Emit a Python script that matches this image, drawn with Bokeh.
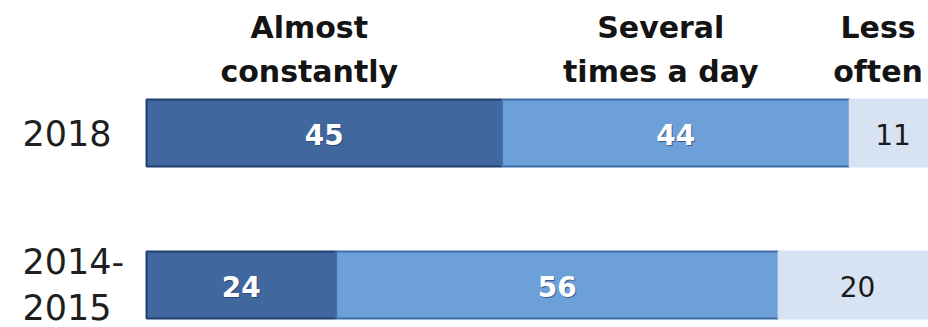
from bokeh.plotting import figure
from bokeh.models import ColumnDataSource, Range1d
from bokeh.core.properties import value
from bokeh.embed import file_html
from bokeh.resources import INLINE

# ---- data ----
years = ["2018", "2014-\n2015"]
year_pos = [1, 0]
header_top = ["Almost", "Several", "Less"]
header_bottom = ["constantly", "times a day", "often"]
almost_constantly = [45, 24]
several_times = [44, 56]
less_often = [11, 20]

colors = ["#41679f", "#6d9fd8", "#d7e3f3"]
edge_colors = ["#203f6e", "#3f6ea8", "#d7e3f3"]
label_colors = ["white", "white", "#1a1a1a"]

W, H = 928, 327
px_per_unit = 7.9
x0_px = 146
px_per_y = 152.0
bar_h = 67 / px_per_y

p = figure(width=W, height=H, output_backend="svg", toolbar_location=None,
           min_border=0, outline_line_color=None,
           x_range=Range1d(-x0_px / px_per_unit, (W - x0_px) / px_per_unit),
           y_range=Range1d(-(H - 284.5) / px_per_y, 1 + 132.5 / px_per_y))
p.axis.visible = False
p.grid.visible = False
p.background_fill_color = "white"
p.border_fill_color = "white"

series = [almost_constantly, several_times, less_often]
left = [0.0] * len(years)
for i, vals in enumerate(series):
    right = [l + v for l, v in zip(left, vals)]
    src = ColumnDataSource(dict(y=year_pos, left=left, right=right,
                                mid=[(l + r) / 2 for l, r in zip(left, right)],
                                lab=[str(v) for v in vals]))
    p.hbar(y="y", left="left", right="right", height=bar_h, source=src,
           fill_color=colors[i], line_color=edge_colors[i], line_width=2)
    if i < 2:
        # subtle shadow for white labels
        p.text(x="mid", y="y", text="lab", source=src, text_align="center",
               text_baseline="middle", text_font=value("DejaVu Sans"),
               text_font_style="bold", text_font_size="28px",
               text_color="#1b2f52", text_alpha=0.6, x_offset=1, y_offset=2)
    p.text(x="mid", y="y", text="lab", source=src, text_align="center",
           text_baseline="middle", text_font=value("DejaVu Sans"),
           text_font_style="bold" if i < 2 else "normal",
           text_font_size="28px", text_color=label_colors[i], y_offset=1)
    top = year_pos[0] + bar_h / 2
    hsrc = ColumnDataSource(dict(x=[src.data["mid"][0]], y=[top],
                                 t1=[header_top[i]], t2=[header_bottom[i]]))
    p.text(x="x", y="y", text="t1", source=hsrc, text_align="center",
           text_baseline="alphabetic", text_font=value("DejaVu Sans"),
           text_font_style="bold", text_font_size="30px",
           text_color="#141414", y_offset=-72, x_offset=-15)
    p.text(x="x", y="y", text="t2", source=hsrc, text_align="center",
           text_baseline="alphabetic", text_font=value("DejaVu Sans"),
           text_font_style="bold", text_font_size="30px",
           text_color="#141414", y_offset=-28, x_offset=-15)
    left = right

ysrc = ColumnDataSource(dict(x=[0, 0], y=year_pos, t=years))
p.text(x="x", y="y", text="t", source=ysrc, text_align="left",
       text_baseline="middle", text_font=value("DejaVu Sans"),
       text_font_size="35px", text_color="#1e1e1e", x_offset=-124,
       text_line_height=1.15, y_offset=0)

open("out.html", "w").write(file_html(p, INLINE))
